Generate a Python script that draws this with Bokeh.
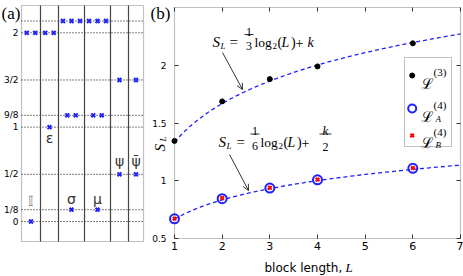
import numpy as np
from bokeh.plotting import figure
from bokeh.models import (Label, FixedTicker, LinearAxis, Range1d, Arrow, OpenHead,
                          BoxAnnotation)
from bokeh.layouts import row
from bokeh.embed import file_html
from bokeh.resources import INLINE

# ---------------- panel (a) data ----------------
sectors = ["𝕀", "ε", "σ", "μ", "ψ", "ψ̄"]
sector_levels = [
    [0, 2, 2],
    [1, 2, 2],
    [1/8, 9/8, 9/8, 17/8, 17/8, 17/8],
    [1/8, 9/8, 9/8, 17/8, 17/8, 17/8],
    [1/2, 3/2],
    [1/2, 3/2],
]
level_ticks = [0.0, 0.125, 0.5, 1.0, 1.125, 1.5, 2.0]
level_labels = ["0", "1/8", "1/2", "1", "9/8", "3/2", "2"]
extra_grid_levels = [2.125]

# ---------------- panel (b) data ----------------
L_vals = [1, 2, 3, 4, 6]
S_L3 = [1.345, 1.687, 1.88, 1.99, 2.19]
S_L4A = [0.67, 0.845, 0.937, 1.008, 1.108]
S_L4B = [0.672, 0.85, 0.94, 1.01, 1.11]
k_fit = 1.335
x_ticks_b = [1, 2, 3, 4, 5, 6, 7]
y_ticks_b = [0.5, 1.0, 1.5, 2.0]
x_lim_b = (1, 7)
y_lim_b = (0.5, 2.5)

SERIF = "Liberation Serif"
SANS = "DejaVu Sans"
BLUE = "#2020ff"
FRAME = "#333333"


def add_text(p, x, y, text, size, font=SERIF, style="normal", color="black",
             align="left", baseline="alphabetic", angle=0.0):
    p.add_layout(Label(x=x, y=y, text=text, text_font=font,
                       text_font_size=f"{size}px", text_font_style=style,
                       text_color=color, text_align=align,
                       text_baseline=baseline, angle=angle))


def bare_axis(ax):
    ax.minor_tick_line_color = None
    ax.axis_line_color = None
    ax.major_tick_line_color = FRAME
    ax.major_tick_in = 4
    ax.major_tick_out = 0
    ax.major_label_text_color = "black"
    ax.major_label_text_font = SANS


# ======================= panel (a) =======================
WA, WB, H = 146, 317, 276
col_edges = [0, 19, 37, 63, 89, 107, 122]
gap = 8.5


def ax_(px):          # page px -> panel (a) x data
    return px - 21


def ay_(py):          # page px -> panel (a) y data
    return (221 - py) / 94.35


box_a = (ay_(241), ay_(5))

pa = figure(width=WA, height=H, x_range=Range1d(ax_(0), ax_(WA)),
            y_range=Range1d(ay_(H), ay_(0)), output_backend="svg",
            toolbar_location=None, x_axis_location=None, y_axis_location=None,
            min_border=0)
pa.min_border_left = pa.min_border_right = pa.min_border_top = pa.min_border_bottom = 0
pa.outline_line_color = None
pa.background_fill_color = "white"
pa.border_fill_color = "white"
pa.xgrid.visible = False
pa.ygrid.visible = False

ya = LinearAxis(fixed_location=col_edges[0], ticker=FixedTicker(ticks=level_ticks),
                bounds=box_a)
bare_axis(ya)
ya.major_tick_in = 0
ya.major_label_overrides = {t: s for t, s in zip(level_ticks, level_labels)}
ya.major_label_standoff = 3
ya.major_label_text_font_size = "9px"
pa.add_layout(ya, "left")

# dotted level lines and column separators
glev = level_ticks + extra_grid_levels
pa.segment(x0=[col_edges[0]] * len(glev), x1=[col_edges[-1]] * len(glev),
           y0=glev, y1=glev, line_color="black", line_width=1, line_dash="1 2")
seps = col_edges[1:-1]
pa.segment(x0=seps, x1=seps, y0=[box_a[0]] * len(seps), y1=[box_a[1]] * len(seps),
           line_color="#444444", line_width=1.2)
pa.add_layout(BoxAnnotation(left=col_edges[0], right=col_edges[-1], bottom=box_a[0],
                            top=box_a[1], fill_alpha=0, line_color=FRAME,
                            line_width=1.2))

xs, ys = [], []
for i, levels in enumerate(sector_levels):
    center = 0.5 * (col_edges[i] + col_edges[i + 1])
    for lv in sorted(set(levels)):
        n = levels.count(lv)
        for j in range(n):
            xs.append(center + (j - (n - 1) / 2) * gap)
            ys.append(lv)
pa.scatter(xs, ys, marker="x", size=5.5, line_color=BLUE, line_width=2)

label_py = [201, 137, 198, 198, 160, 160]
label_col = ["#888888", "#333333", "#333333", "#333333", "#333333", "#333333"]
for i, name in enumerate(sectors):
    center = 0.5 * (col_edges[i] + col_edges[i + 1])
    add_text(pa, center, ay_(label_py[i]), name, 14, font=SANS if i else SERIF,
             color=label_col[i], align="center", baseline="middle")

add_text(pa, ax_(1), ay_(3), "(a)", 17, baseline="top")

# ======================= panel (b) =======================


def rx(px):           # page px -> L
    return 1 + (px - 174) / 47.667


def ry(py):           # page px -> S_L
    return 2.5 - (py - 7) / 115.5


pb = figure(width=WB, height=H, x_range=Range1d(rx(WA), rx(WA + WB)),
            y_range=Range1d(ry(H), ry(0)), output_backend="svg",
            toolbar_location=None, x_axis_location=None, y_axis_location=None,
            min_border=0)
pb.min_border_left = pb.min_border_right = pb.min_border_top = pb.min_border_bottom = 0
pb.outline_line_color = None
pb.background_fill_color = "white"
pb.border_fill_color = "white"
pb.xgrid.visible = False
pb.ygrid.visible = False

xb = LinearAxis(fixed_location=y_lim_b[0], ticker=FixedTicker(ticks=x_ticks_b),
                bounds=x_lim_b)
bare_axis(xb)
xb.major_label_text_font_size = "11px"
xb.major_label_standoff = 3
pb.add_layout(xb, "below")

yb = LinearAxis(fixed_location=x_lim_b[0], ticker=FixedTicker(ticks=y_ticks_b),
                bounds=y_lim_b)
bare_axis(yb)
yb.major_label_text_font_size = "9px"
yb.major_label_standoff = 8
pb.add_layout(yb, "left")

top_ax = LinearAxis(fixed_location=y_lim_b[1], ticker=FixedTicker(ticks=x_ticks_b),
                    bounds=x_lim_b)
right_ax = LinearAxis(fixed_location=x_lim_b[1], ticker=FixedTicker(ticks=y_ticks_b),
                      bounds=y_lim_b)
for ax, ticks in ((top_ax, x_ticks_b), (right_ax, y_ticks_b)):
    bare_axis(ax)
    ax.major_label_overrides = {float(t): "" for t in ticks}
    ax.major_label_text_font_size = "1px"
    ax.major_label_standoff = 0
pb.add_layout(top_ax, "above")
pb.add_layout(right_ax, "right")

pb.add_layout(BoxAnnotation(left=x_lim_b[0], right=x_lim_b[1], bottom=y_lim_b[0],
                            top=y_lim_b[1], fill_alpha=0, line_color=FRAME,
                            line_width=1.2))

# fitted curves
Lc = np.linspace(x_lim_b[0], x_lim_b[1], 121)
pb.line(Lc, np.log2(Lc) / 3 + k_fit, line_color=BLUE, line_width=1.3,
        line_dash="4 3")
pb.line(Lc, np.log2(Lc) / 6 + k_fit / 2, line_color=BLUE, line_width=1.3,
        line_dash="4 3")

pb.scatter(L_vals, S_L3, marker="circle", size=5, fill_color="black",
           line_color="black")
pb.scatter(L_vals, S_L4A, marker="circle", size=9, fill_color=None,
           line_color=BLUE, line_width=2)
pb.scatter(L_vals, S_L4B, marker="x", size=5, line_color="red", line_width=2)

# formula 1
add_text(pb, rx(212), ry(41), "S", 15, style="italic")
add_text(pb, rx(220), ry(45), "L", 9, style="italic")
add_text(pb, rx(229), ry(41), "=", 15)
add_text(pb, rx(248.5), ry(31), "1", 12, align="center")
add_text(pb, rx(248.5), ry(45), "3", 12, align="center")
add_text(pb, rx(254), ry(42), "log", 13.5)
add_text(pb, rx(272), ry(45), "2", 9)
add_text(pb, rx(277), ry(42), "(", 14)
add_text(pb, rx(281), ry(42), "L", 14, style="italic")
add_text(pb, rx(290.5), ry(42), ")", 14)
add_text(pb, rx(295), ry(42), "+", 14)
add_text(pb, rx(307), ry(42), "k", 14, style="italic")
pb.segment(x0=[rx(244)], y0=[ry(34)], x1=[rx(253)], y1=[ry(34)],
           line_color="black", line_width=0.8)
pb.add_layout(Arrow(x_start=rx(222), y_start=ry(52), x_end=rx(242), y_end=ry(89),
                    line_width=0.8, line_color="black",
                    end=OpenHead(size=6, line_width=0.8, line_color="black")))

# formula 2
add_text(pb, rx(218), ry(141), "S", 15, style="italic")
add_text(pb, rx(226), ry(145), "L", 9, style="italic")
add_text(pb, rx(236), ry(141), "=", 15)
add_text(pb, rx(254.5), ry(130), "1", 12, align="center")
add_text(pb, rx(254.5), ry(145), "6", 12, align="center")
add_text(pb, rx(260), ry(142), "log", 13.5)
add_text(pb, rx(278), ry(145), "2", 9)
add_text(pb, rx(283), ry(142), "(", 14)
add_text(pb, rx(287), ry(142), "L", 14, style="italic")
add_text(pb, rx(296.5), ry(142), ")", 14)
add_text(pb, rx(301), ry(142), "+", 14)
add_text(pb, rx(325), ry(130), "k", 13, style="italic", align="center")
add_text(pb, rx(325), ry(146), "2", 12, align="center")
pb.segment(x0=[rx(250), rx(319)], y0=[ry(133.5), ry(133.5)],
           x1=[rx(259), rx(331)], y1=[ry(133.5), ry(133.5)],
           line_color="black", line_width=0.8)
pb.add_layout(Arrow(x_start=rx(229), y_start=ry(154), x_end=rx(248), y_end=ry(190),
                    line_width=0.8, line_color="black",
                    end=OpenHead(size=6, line_width=0.8, line_color="black")))

# legend
pb.add_layout(BoxAnnotation(left=rx(404), right=rx(451), top=ry(57), bottom=ry(146),
                            fill_color="white", fill_alpha=1.0, line_color=FRAME,
                            line_width=1, level="underlay"))
pb.scatter([rx(411.7)], [ry(75)], marker="circle", size=5, fill_color="black",
           line_color="black")
pb.scatter([rx(411.7)], [ry(108)], marker="circle", size=8, fill_color=None,
           line_color=BLUE, line_width=2)
pb.scatter([rx(411.7)], [ry(135)], marker="x", size=5, line_color="red",
           line_width=2)
for base, sup, sub, sup_y, sub_y in ((83, "(3)", "", 71, 0),
                                     (116, "(4)", "A", 104, 118),
                                     (142, "(4)", "B", 131, 144)):
    add_text(pb, rx(420), ry(base), "ℒ", 15, font="DejaVu Serif")
    add_text(pb, rx(433), ry(sup_y), sup, 11)
    if sub:
        add_text(pb, rx(435), ry(sub_y), sub, 9, style="italic")

# panel tag and axis labels
add_text(pb, rx(150), ry(3), "(b)", 17, baseline="top")
add_text(pb, rx(159), ry(151), "S", 15, style="italic", angle=np.pi / 2)
add_text(pb, rx(162), ry(141), "L", 9, style="italic", angle=np.pi / 2)
add_text(pb, rx(264), ry(267), "block length,", 12, font=SANS)
add_text(pb, rx(345), ry(267), "L", 13, style="italic")

layout = row(pa, pb)
open("out.html", "w").write(file_html(layout, INLINE))
